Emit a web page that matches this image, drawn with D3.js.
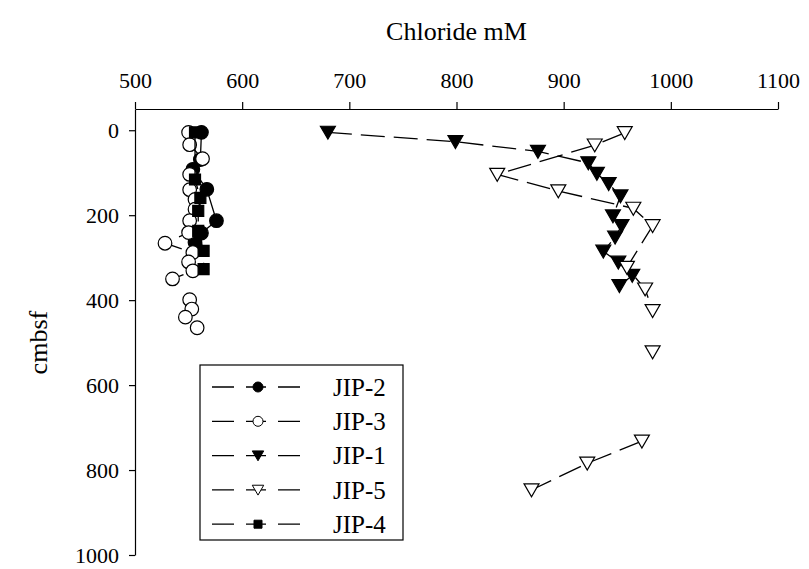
<!DOCTYPE html>
<html>
<head>
<meta charset="utf-8">
<script src="https://cdn.jsdelivr.net/npm/d3@7"></script>
<style>
  body { margin: 0; background: #fff; }
  svg text { font-family: "Liberation Serif", "Times New Roman", serif; fill: #000; }
</style>
</head>
<body>
<div id="chart"></div>
<script>
// Chloride profiles, depth in cmbsf (null = break in line)
const xTicks = [500, 600, 700, 800, 900, 1000, 1100];
const yTicks = [0, 200, 400, 600, 800, 1000];

const jip2Depth = [5, 69, 92, 139, 213, 242, 264];
const jip2Cl    = [562, 561, 554, 567, 576, 562, 556];

const jip3Depth = [5, 34, 67, 104, 140, 163, 186, 213, 241, 266, 288, 310, 331, 350, 375, 399, 421, 440, 465];
const jip3Cl    = [550, 551, 563, 551, 551, 556, 556, 551, 550, 528, 554, 550, 554, 535, null, 551, 553, 547, 558];

const jip1Depth = [5, 27, 50, 77, 102, 126, 155, 202, 225, 252, 285, 311, 342, 366];
const jip1Cl    = [680, 799, 876, 923, 931, 942, 953, 946, 954, 948, 937, 951, 964, 952];

const jip5Depth = [6, 35, 104, 143, 184, 225, 323, 374, 425, 470, 522, 620, 732, 784, 847];
const jip5Cl    = [957, 929, 838, 895, 965, 983, 959, 976, 983, null, 983, null, 973, 922, 870];

const jip4Depth = [5, 116, 159, 190, 237, 284, 327];
const jip4Cl    = [556, 556, 561, 559, 559, 564, 564];

const series = [
    {name: "JIP-2", depth: jip2Depth, cl: jip2Cl, shape: "circle", fill: "#000"},
    {name: "JIP-3", depth: jip3Depth, cl: jip3Cl, shape: "circle", fill: "#fff"},
    {name: "JIP-1", depth: jip1Depth, cl: jip1Cl, shape: "triangle", fill: "#000"},
    {name: "JIP-5", depth: jip5Depth, cl: jip5Cl, shape: "triangle", fill: "#fff"},
    {name: "JIP-4", depth: jip4Depth, cl: jip4Cl, shape: "square", fill: "#000"}
];

const W = 809, H = 569;
const plot = {left: 135, right: 778, top: 109, bottom: 555};

const svg = d3.select("#chart")
    .append("svg")
    .attr("width", W)
    .attr("height", H);

const x = d3.scaleLinear().domain([500, 1100]).range([plot.left, plot.right]);
const y = d3.scaleLinear().domain([-50, 1000]).range([plot.top, plot.bottom]);

// axes
const xAxis = svg.append("g")
    .attr("transform", `translate(0,${plot.top})`)
    .call(d3.axisTop(x).tickValues(xTicks).tickFormat(d3.format("d"))
        .tickSize(7).tickSizeOuter(0).tickPadding(14));

const yAxis = svg.append("g")
    .attr("transform", `translate(${plot.left},0)`)
    .call(d3.axisLeft(y).tickValues(yTicks).tickFormat(d3.format("d"))
        .tickSize(6).tickSizeOuter(0).tickPadding(10));

[xAxis, yAxis].forEach(a => {
    a.selectAll("path, line").attr("stroke", "#000").attr("stroke-width", 1.2);
    a.selectAll("text").style("font-size", "22px").attr("fill", "#000");
});
yAxis.selectAll("text").attr("dy", "0.33em");

svg.append("text")
    .attr("x", (plot.left + plot.right) / 2)
    .attr("y", 40)
    .attr("text-anchor", "middle")
    .style("font-size", "26px")
    .text("Chloride mM");

svg.append("text")
    .attr("transform", `translate(47,${(y(0) + y(1000)) / 2}) rotate(-90)`)
    .attr("text-anchor", "middle")
    .style("font-size", "26px")
    .text("cmbsf");

// marker paths
function markerPath(shape, s) {
    if (shape === "circle") {
        return d3.symbol(d3.symbolCircle, Math.PI * s * s)();
    }
    if (shape === "square") {
        return `M${-s},${-s}H${s}V${s}H${-s}Z`;
    }
    // downward triangle
    return `M${-s * 1.1},${-s * 0.9}H${s * 1.1}L0,${s * 1.0}Z`;
}

const line = d3.line()
    .defined(d => d.cl != null)
    .x(d => x(d.cl))
    .y(d => y(d.depth));

series.forEach(s => {
    const pts = s.depth.map((d, i) => ({depth: d, cl: s.cl[i]}));
    const g = svg.append("g").attr("class", "series");

    g.append("path")
        .attr("fill", "none")
        .attr("stroke", "#000")
        .attr("stroke-width", 1.3)
        .attr("stroke-dasharray", "24,9")
        .attr("d", line(pts));

    const sz = s.shape === "square" ? 5.5 : 6.8;
    g.selectAll(".pt")
        .data(pts.filter(p => p.cl != null))
        .enter().append("path")
        .attr("class", "pt")
        .attr("transform", d => `translate(${x(d.cl)},${y(d.depth)})`)
        .attr("d", markerPath(s.shape, sz))
        .attr("fill", s.fill)
        .attr("stroke", "#000")
        .attr("stroke-width", 1.2);
});

// legend
const legend = svg.append("g").attr("class", "legend");
const lgX = 200, lgY = 365, lgW = 203, lgH = 175, rowH = 34.3;

legend.append("rect")
    .attr("x", lgX).attr("y", lgY)
    .attr("width", lgW).attr("height", lgH)
    .attr("fill", "#fff")
    .attr("stroke", "#000")
    .attr("stroke-width", 1.2);

series.forEach((s, i) => {
    const ry = lgY + 22 + i * rowH;
    const row = legend.append("g").attr("transform", `translate(0,${ry})`);
    row.append("line")
        .attr("x1", lgX + 12).attr("x2", lgX + 100)
        .attr("y1", 0).attr("y2", 0)
        .attr("stroke", "#000")
        .attr("stroke-width", 1.3)
        .attr("stroke-dasharray", "22,12,20,12,22");
    const sz = s.shape === "square" ? 4 : s.shape === "circle" ? 5 : 5.2;
    row.append("path")
        .attr("transform", `translate(${lgX + 58},0)`)
        .attr("d", markerPath(s.shape, sz))
        .attr("fill", s.fill)
        .attr("stroke", "#000")
        .attr("stroke-width", 1);
    row.append("text")
        .attr("x", lgX + 133)
        .attr("y", 0)
        .attr("dy", "0.35em")
        .style("font-size", "25px")
        .text(s.name);
});
</script>
</body>
</html>
